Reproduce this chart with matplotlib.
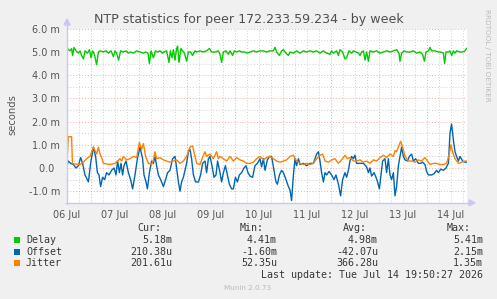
import matplotlib
matplotlib.use('Agg')
import matplotlib.pyplot as plt
import numpy as np
from matplotlib.lines import Line2D
from matplotlib.patches import Polygon, Rectangle

# ---------------- data (hours since 06 Jul 12:00, values in milliseconds) -------------
day_labels = ['06 Jul', '07 Jul', '08 Jul', '09 Jul', '10 Jul', '11 Jul', '12 Jul', '13 Jul', '14 Jul']

delay_h = [0, 0.7, 1.5, 2.3, 2.8, 3.5, 4.5, 5.7, 6.5, 7.3, 8.2, 9, 10.2, 11.2, 12, 12.8, 13.7, 14.8,
           15.7, 16.5, 18.2, 19.5, 20.7, 22, 23.2, 24, 24.8, 25.8, 26.8, 28.2, 29.5, 30.7, 31.8, 33.2,
           34.8, 36.5, 38.2, 39.3, 40.5, 41.2, 42, 43.2, 44.2, 45.2, 46.5, 47.7, 48.5, 49.8, 51, 51.7,
           52.5, 53.2, 54, 54.8, 55.3, 56, 57, 57.8, 58.7, 59.8, 60.7, 61.8, 62.8, 64, 64.8, 66.5, 68.2,
           69.8, 71.2, 72.3, 74, 75.7, 76.5, 77.3, 78.2, 79.5, 80.7, 81.5, 82.8, 83.7, 84.8, 86.2, 87.3,
           89, 90.2, 91.5, 93.2, 94.8, 96.5, 98.2, 99.8, 101.5, 103.2, 104, 104.8, 106.2, 107.3, 108.2,
           109.5, 110.7, 111.5, 113.2, 114.8, 116.5, 118.2, 119.8, 121.5, 123.2, 124.8, 126.5, 128.2,
           129.8, 131.5, 132.3, 133.2, 134.8, 135.7, 136.5, 137.8, 139, 139.8, 141, 142.3, 143.2, 144.5,
           145.7, 146.5, 147.3, 148.2, 149, 149.8, 150.7, 151.5, 153.2, 154.8, 156.5, 158.2, 159.8,
           161.5, 163.2, 164.8, 166, 166.5, 167.3, 168.5, 169.8, 171.5, 173.2, 174.8, 176.5, 177.8,
           178.7, 179.5, 180.7, 181.5, 182.3, 184, 185.7, 186.8, 188.2, 188.8, 189.5, 190.7, 191.5,
           192.3, 193.2, 194, 194.8, 196.5, 197.8, 199, 199.8]
delay_ms = [5.2, 5.1, 5.05, 5.15, 4.85, 5.2, 5.05, 4.95, 5.05, 4.85, 4.7, 5.05, 4.95, 5.1, 4.75, 5.05, 4.9, 4.45,
            5.0, 5.05, 5.0, 5.05, 4.95, 5.05, 4.8, 5.05, 4.95, 4.65, 5.05, 5.0, 5.05, 4.95, 5.0, 4.95,
            5.05, 5.0, 4.95, 5.0, 4.95, 4.5, 5.05, 4.75, 5.05, 5.0, 5.05, 4.95, 5.0, 5.05, 4.55, 5.05,
            4.75, 5.1, 4.65, 5.15, 5.25, 4.55, 5.15, 5.05, 4.95, 4.6, 5.0, 5.0, 4.85, 5.05, 5.0, 5.05, 5.0,
            5.05, 5.15, 5.0, 5.0, 5.05, 4.9, 4.55, 5.0, 5.05, 4.9, 5.05, 4.85, 5.05, 5.0, 5.05, 5.0,
            5.0, 4.95, 5.0, 5.05, 5.0, 5.05, 5.05, 5.0, 5.05, 5.05, 5.2, 5.0, 4.85, 5.05, 5.1,
            4.95, 4.85, 5.0, 4.95, 5.05, 4.95, 5.05, 5.0, 5.05, 5.0, 5.05, 4.95, 5.05,
            4.95, 4.9, 5.05, 4.95, 5.05, 4.85, 5.1, 5.0, 4.7, 4.75, 5.05, 4.95, 5.05, 5.0,
            4.95, 4.85, 5.0, 5.05, 4.65, 5.0, 4.6, 5.05, 5.0, 5.05, 4.95, 5.0, 5.05,
            5.0, 5.05, 5.1, 4.95, 4.6, 4.95, 5.05, 5.0, 5.0, 5.05, 4.95, 5.0, 4.9,
            4.6, 5.0, 5.05, 5.2, 5.05, 5.05, 5.0, 5.0, 4.95, 4.5, 5.0, 5.0, 5.05,
            4.85, 5.05, 4.95, 5.05, 5.0, 5.0, 5.05, 5.15]

offset_h = [0, 0.7, 1.8, 3.2, 4.5, 5.7, 6.8, 7.8, 9, 10.7, 11.8, 13.2, 14.3, 15.2, 16, 16.8, 17.8, 18.8,
            19.8, 21, 22.3, 23.5, 24.5, 25.3, 26.2, 27, 27.8, 28.5, 29.5, 30.7, 31.8, 32.8, 34, 35.2,
            36.5, 37.8, 38.5, 39.5, 40.2, 41.2, 42.3, 43.2, 44, 44.8, 45.7, 46.8, 48.2, 49.3, 50.3,
            51.5, 52.8, 54, 54.8, 55.7, 56.5, 57.3, 58.2, 59, 59.8, 60.7, 61.5, 62.3, 63.2, 64.3, 65.7,
            66.8, 67.8, 69, 69.8, 70.7, 71.5, 72.5, 73.5, 74.5, 75.3, 76.5, 77.3, 78.2, 79.2, 80.2, 81.2,
            82.3, 83.2, 84.2, 85.2, 86.2, 87.3, 88.5, 89.5, 90.5, 91.5, 92.8, 94, 95.2, 96.5, 97.3, 98.2,
            99, 100.2, 101.2, 102.3, 103.5, 104.5, 105.2, 106.2, 107.3, 108.2, 109.5, 110.7, 111.5,
            112.3, 113.2, 114, 114.8, 115.7, 116.5, 118.2, 119.8, 121.5, 123.2, 124.8, 125.7, 126.5,
            127.3, 128.2, 129, 129.8, 131, 132.3, 133.5, 134.5, 135.7, 136.8, 137.8, 139, 139.8, 140.7,
            141.5, 142.3, 143.2, 144, 144.8, 146.5, 148.2, 149.8, 150.7, 151.5, 152.3, 153.5, 154.5,
            155.3, 156.2, 157, 157.8, 159, 159.8, 160.7, 161.5, 162.3, 163.2, 164, 164.8, 165.7, 166.5,
            167.3, 168.2, 169, 170.2, 171.2, 172.3, 173.2, 174.3, 175.7, 176.8, 177.8, 179, 179.8,
            180.7, 182.3, 183.5, 184.8, 185.7, 186.8, 188.2, 189.5, 190.7, 191.5, 192.3, 193.2, 194,
            194.8, 195.7, 196.5, 197.8, 199, 199.8]
offset_ms = [0.1, 0.3, 0.2, 0.15, 0.0, 0.1, 0.45, 0.2, -0.3, -0.6, 0.2, 0.9, 0.5, -0.2, -0.3, -0.8, -0.4, -0.5,
             -0.2, -0.3, -0.1, 0.0, -0.3, 0.3, -0.2, 0.2, -0.3, 0.1, 0.3, -0.2, -0.5, -0.9, -0.3, 0.4,
             0.9, 0.4, -0.3, -0.6, -0.9, -0.2, 0.3, 0.2, 0.5, 0.1, -0.3, -0.5, -0.8, -0.5, -0.2,
             -0.1, 0.4, 0.5, 0.0, -0.6, -1.0, -0.6, -0.4, -0.1, 0.2, 0.7, 0.8, 0.4, -0.3, -0.6, -0.6,
             -0.3, 0.2, 0.3, -0.2, 0.4, 0.5, 0.1, -0.4, -0.3, 0.3, -0.2, -0.6, -0.2, 0.1, -0.3, -0.7,
             -0.9, -0.9, -0.4, -0.6, -0.3, -0.2, 0.0, 0.1, -0.2, -0.35, -0.4, 0.1, 0.2, 0.4, 0.05, 0.4,
             -0.1, 0.35, 0.5, 0.5, -0.1, -0.6, -0.7, -0.3, -0.1, -0.2, -0.5, -0.8, -0.95,
             -1.4, -0.3, 0.4, 0.1, 0.4, 0.15, 0.2, 0.1, 0.2, 0.2, 0.6, 0.7, 0.3,
             -0.2, -0.6, -0.2, -0.3, -0.15, -0.3, -0.5, -0.3, -0.7, -1.2, -0.5, -0.2, -0.4, -0.1,
             0.3, 0.5, 0.4, 0.55, 0.2, 0.2, 0.2, 0.05, -0.2, 0.0, -0.35, -0.2, -0.4,
             -0.6, -0.9, -0.3, 0.3, 0.4, -0.2, 0.4, -0.3, -0.5, -0.2, -1.2, -0.8, 0.1, 0.5,
             0.9, 0.5, 0.35, 0.3, 0.5, 0.6, 0.3, 0.4, 0.2, 0.2, 0.25, 0.15, -0.15,
             -0.3, -0.3, -0.25, -0.1, -0.2, -0.05, -0.1, 0.0, 0.2, 1.5, 1.9, 1.2, 0.7,
             0.5, 0.3, 0.5, 0.3, 0.25, 0.25]

jitter_h = [0, 0.7, 2.3, 2.7, 3.2, 6.5, 8.2, 9.8, 11.5, 13.2, 14.8, 15.7, 16.5, 17.3, 18.2, 21.5, 24, 26.5,
            27.3, 28.2, 29.8, 31.5, 33.2, 34.8, 36.2, 37.3, 38.2, 39.3, 40.7, 42.3, 43.2, 44, 44.8, 46.5,
            48.2, 49.8, 51.5, 53.2, 54.8, 56.5, 58.2, 59.8, 61.5, 62.8, 64, 64.8, 66.5, 68.2, 69, 69.8,
            71.5, 73.2, 74.8, 75.7, 76.5, 78.2, 79.8, 81.5, 83.2, 84.8, 86.5, 88.2, 89.8, 91.5, 93.2,
            94.8, 96.5, 98.2, 99.8, 101.5, 103.2, 104.8, 106.5, 108.2, 109.8, 111.5, 113.2, 114.8, 116.5,
            118.2, 119.8, 121.5, 123.2, 124.8, 126.5, 127.8, 129, 130.7, 132.3, 134, 135.7, 137.3, 139,
            140.2, 141.5, 143.2, 144.8, 146.5, 148.2, 149.8, 151.5, 153.2, 154.8, 156.5, 158.2, 159.8,
            161.5, 163.2, 164, 164.8, 165.7, 166.8, 167.8, 169, 170.7, 172.3, 174, 175.7, 177.3, 179,
            180.2, 181.5, 183.2, 184.8, 186.5, 188.2, 189.8, 191, 192, 192.8, 194, 195.7, 197.3, 199, 199.8]
jitter_ms = [0.3, 1.35, 1.35, 0.2, 0.18, 0.15, 0.25, 0.4, 0.5, 0.9, 0.6, 0.9, 0.6, 0.45, 0.2, 0.15, 0.2, 0.4,
             0.3, 0.5, 0.35, 0.4, 0.5, 0.45, 1.1, 0.8, 1.05, 0.5, 0.2, 0.15, 0.35, 0.7, 0.4, 0.45,
             0.35, 0.3, 0.25, 0.3, 0.35, 0.2, 0.3, 0.5, 0.9, 0.95, 0.5, 0.2, 0.15, 0.55, 0.7, 0.5,
             0.6, 0.4, 0.7, 0.4, 0.5, 0.4, 0.3, 0.5, 0.3, 0.45, 0.35, 0.3, 0.2, 0.2, 0.25,
             0.4, 0.5, 0.35, 0.45, 0.5, 0.4, 0.3, 0.25, 0.3, 0.35, 0.5, 0.55, 0.3, 0.2,
             0.15, 0.2, 0.15, 0.2, 0.4, 0.55, 0.6, 0.3, 0.25, 0.35, 0.4, 0.2, 0.35, 0.55,
             0.4, 0.45, 0.3, 0.3, 0.35, 0.25, 0.3, 0.2, 0.35, 0.3, 0.45, 0.55, 0.45,
             0.6, 0.5, 0.75, 0.7, 0.9, 1.15, 0.9, 0.5, 0.3, 0.3, 0.25, 0.35, 0.3, 0.45,
             0.3, 0.15, 0.2, 0.2, 0.15, 0.15, 0.2, 0.55, 1.0, 0.7, 0.4, 0.2, 0.25, 0.3, 0.3]

legend_names = ['Delay', 'Offset', 'Jitter']
legend_colors = ['#00CC00', '#0066B3', '#FF8000']
stat_headers = ['Cur:', 'Min:', 'Avg:', 'Max:']
stat_cur = ['5.18m', '210.38u', '201.61u']
stat_min = ['4.41m', '-1.60m', '52.35u']
stat_avg = ['4.98m', '-42.07u', '366.28u']
stat_max = ['5.41m', '2.15m', '1.35m']

y_ticks = [-1.0, 0.0, 1.0, 2.0, 3.0, 4.0, 5.0, 6.0]

# ---------------- figure ----------------
W, H = 497, 299
fig = plt.figure(figsize=(W / 100, H / 100), dpi=100, facecolor='#F0F0F0')

def fx(px):
    return px / W

def fy(py):
    return 1 - py / H

L, R, T, B = 67, 467, 28.8, 202.8
ax = fig.add_axes([fx(L), fy(B), (R - L) / W, (B - T) / H])
ax.set_facecolor('white')
ax.set_xlim(0, 200)
ax.set_ylim(-1.5, 6.0)
for s in ax.spines.values():
    s.set_visible(False)

major_c = (0.92, 0.5, 0.5, 0.65)
minor_c = (0.75, 0.75, 0.75, 0.75)
dots = (0, (1, 2))
# horizontal grid
for v in np.arange(-1.5, 6.01, 0.5):
    if abs(v - round(v)) < 1e-6:
        ax.axhline(v, color=major_c, lw=0.7, ls=dots, zorder=1)
    else:
        ax.axhline(v, color=minor_c, lw=0.7, ls=dots, zorder=0.5)
# vertical grid: minor every 6h, major at midnight
for h in np.arange(0, 200.1, 6):
    if (h + 12) % 24 == 0:
        ax.axvline(h, color=major_c, lw=0.7, ls=dots, zorder=1)
    else:
        ax.axvline(h, color=minor_c, lw=0.7, ls=dots, zorder=0.5)

ax.plot(delay_h, delay_ms, color=legend_colors[0], lw=1.0, zorder=3)
ax.plot(offset_h, offset_ms, color=legend_colors[1], lw=1.0, zorder=3)
ax.plot(jitter_h, jitter_ms, color=legend_colors[2], lw=1.0, zorder=3)

ax.set_yticks(y_ticks)
ax.set_yticklabels([('%.1f m' % v) if v != 0 else '0.0  ' for v in y_ticks])
ax.set_xticks([24 * i for i in range(len(day_labels))])
ax.set_xticklabels(day_labels)
ax.tick_params(axis='both', length=0, labelsize=7, colors='#555555')
ax.tick_params(axis='y', pad=5)
ax.tick_params(axis='x', pad=5)

# axes lines with arrows
axis_c = '#C8C8F0'
fig.add_artist(Line2D([fx(L), fx(L)], [fy(B + 1), fy(24)], color=axis_c, lw=1.0))
fig.add_artist(Line2D([fx(L - 1), fx(470)], [fy(B), fy(B)], color=axis_c, lw=1.0))
fig.add_artist(Polygon([[fx(L - 3), fy(25)], [fx(L + 3), fy(25)], [fx(L), fy(19)]], closed=True,
                       color=axis_c, transform=fig.transFigure))
fig.add_artist(Polygon([[fx(469), fy(B - 3)], [fx(469), fy(B + 3)], [fx(475), fy(B)]], closed=True,
                       color=axis_c, transform=fig.transFigure))

# titles
fig.text(fx(249), fy(19), 'NTP statistics for peer 172.233.59.234 - by week', ha='center', va='center',
         fontsize=9.1, color='#505050')
fig.text(fx(12), fy(115), 'seconds', rotation=90, ha='center', va='center', fontsize=7.2, color='#555555')
fig.text(fx(487), fy(55), 'RRDTOOL / TOBI OETIKER', rotation=270, ha='center', va='center',
         fontsize=5.2, color='#BBBBBB')

# legend
mono = 'DejaVu Sans Mono'
tc = '#383838'
fs = 7.2
hdr_x = [137, 240, 343, 447]
for hx, hs in zip(hdr_x, stat_headers):
    fig.text(fx(hx), fy(228), hs, ha='left', va='center', family=mono, fontsize=fs, color=tc)
row_y = [240, 251.7, 263.3]
for i, name in enumerate(legend_names):
    y = row_y[i]
    fig.add_artist(Rectangle((fx(14), fy(y + 3)), 6 / W, 6 / H, transform=fig.transFigure,
                             facecolor=legend_colors[i], edgecolor='none'))
    fig.text(fx(26), fy(y), name, ha='left', va='center', family=mono, fontsize=fs, color=tc)
    for colx, vals in zip([172, 277, 378, 483], [stat_cur, stat_min, stat_avg, stat_max]):
        fig.text(fx(colx), fy(y), vals[i], ha='right', va='center', family=mono, fontsize=fs, color=tc)

fig.text(fx(483), fy(275), 'Last update: Tue Jul 14 19:50:27 2026', ha='right', va='center',
         family=mono, fontsize=fs, color=tc)
fig.text(fx(248), fy(288), 'Munin 2.0.73', ha='center', va='center', fontsize=5.2, color='#BBBBBB')

fig.savefig('out.png', dpi=100, facecolor=fig.get_facecolor())
